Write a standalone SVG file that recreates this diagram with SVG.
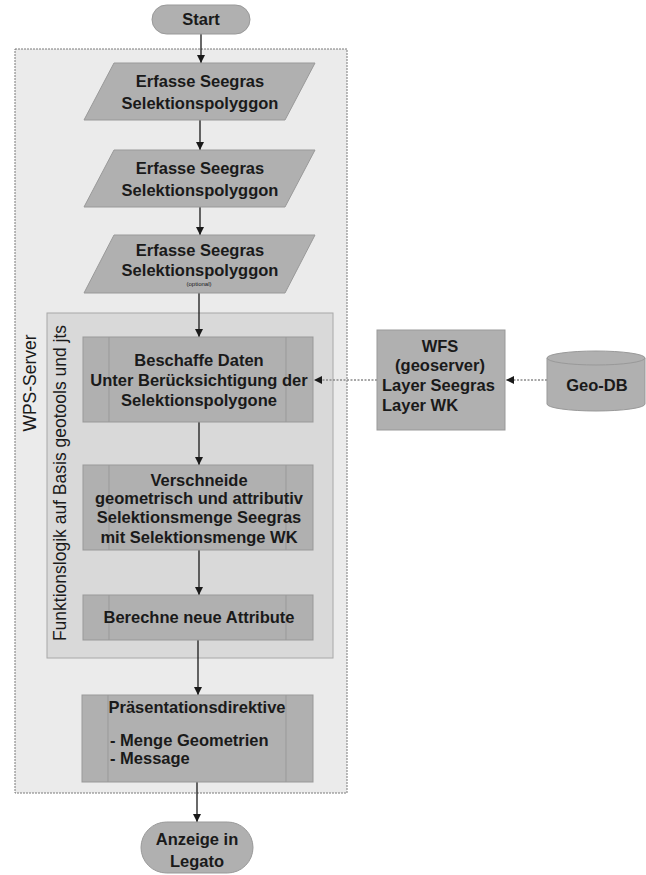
<svg xmlns="http://www.w3.org/2000/svg" width="646" height="875" viewBox="0 0 646 875">
  <style>
    .lane { fill: #ebebeb; stroke: #7a7a7a; stroke-width: 1; stroke-dasharray: 2 1; }
    .sublane { fill: #d9d9d9; stroke: #a8a8a8; stroke-width: 1; }
    .node { fill: #b0b0b0; stroke: #999999; stroke-width: 1; }
    .bar { stroke: #999999; stroke-width: 1; fill: none; }
    .t { font-family: "Liberation Sans", Arial, sans-serif; font-size: 16.5px; font-weight: bold; fill: #1a1a1a; text-anchor: middle; }
    .tl { font-family: "Liberation Sans", Arial, sans-serif; font-size: 16.5px; font-weight: bold; fill: #1a1a1a; text-anchor: start; }
    .lab { font-family: "Liberation Sans", Arial, sans-serif; font-size: 17.5px; fill: #1a1a1a; text-anchor: middle; }
    .small { font-family: "Liberation Sans", Arial, sans-serif; font-size: 6px; fill: #1a1a1a; text-anchor: middle; }
    .flow { stroke: #1a1a1a; stroke-width: 1.3; fill: none; marker-end: url(#arrow); }
    .data { stroke: #8a8a8a; stroke-width: 1.3; stroke-dasharray: 2 1.5; fill: none; marker-end: url(#arrow); }
  </style>
  <defs>
    <marker id="arrow" viewBox="0 0 10 10" refX="10" refY="5" markerWidth="8" markerHeight="8" markerUnits="userSpaceOnUse" orient="auto">
      <path d="M0,0 L10,5 L0,10 z" fill="#1a1a1a"/>
    </marker>
  </defs>

  <!-- swimlanes -->
  <g id="lane-wps">
    <rect class="lane" x="15" y="49" width="332" height="744"/>
    <text class="lab" transform="translate(36,383) rotate(-90)">WPS-Server</text>
  </g>
  <g id="lane-logic">
    <rect class="sublane" x="47" y="313" width="286" height="345"/>
    <text class="lab" transform="translate(66,483) rotate(-90)">Funktionslogik auf Basis geotools und jts</text>
  </g>

  <!-- connectors -->
  <g id="connectors">
    <line class="flow" x1="201" y1="34" x2="201" y2="63"/>
    <line class="flow" x1="200" y1="120" x2="200" y2="150"/>
    <line class="flow" x1="200" y1="207" x2="200" y2="235"/>
    <line class="flow" x1="199" y1="293" x2="199" y2="337"/>
    <line class="flow" x1="199" y1="422" x2="199" y2="465"/>
    <line class="flow" x1="199" y1="550" x2="199" y2="595"/>
    <line class="flow" x1="198" y1="640" x2="198" y2="695"/>
    <line class="flow" x1="197" y1="782" x2="197" y2="822"/>
    <line class="data" x1="547" y1="380" x2="506" y2="380"/>
    <line class="data" x1="377" y1="380" x2="314" y2="380"/>
  </g>

  <!-- nodes -->
  <g id="start">
    <rect class="node" x="152" y="5" width="98" height="29" rx="14.5"/>
    <text class="t" x="201" y="25">Start</text>
  </g>

  <g id="input-1">
    <polygon class="node" points="114,63 315,63 285,120 84,120"/>
    <text class="t" x="200" y="87">Erfasse Seegras</text>
    <text class="t" x="200" y="109">Selektionspolyggon</text>
  </g>

  <g id="input-2">
    <polygon class="node" points="114,150 315,150 285,207 84,207"/>
    <text class="t" x="200" y="174">Erfasse Seegras</text>
    <text class="t" x="200" y="196">Selektionspolyggon</text>
  </g>

  <g id="input-3">
    <polygon class="node" points="114,235 315,235 285,293 84,293"/>
    <text class="t" x="200" y="256">Erfasse Seegras</text>
    <text class="t" x="200" y="276">Selektionspolyggon</text>
    <text class="small" x="199" y="286">(optional)</text>
  </g>

  <g id="fetch-data">
    <rect class="node" x="83" y="337" width="230" height="85"/>
    <line class="bar" x1="109" y1="337" x2="109" y2="422"/>
    <line class="bar" x1="286" y1="337" x2="286" y2="422"/>
    <text class="t" x="199" y="366">Beschaffe Daten</text>
    <text class="t" x="199" y="386">Unter Berücksichtigung der</text>
    <text class="t" x="199" y="406">Selektionspolygone</text>
  </g>

  <g id="intersect">
    <rect class="node" x="83" y="465" width="230" height="85"/>
    <line class="bar" x1="109" y1="465" x2="109" y2="550"/>
    <line class="bar" x1="286" y1="465" x2="286" y2="550"/>
    <text class="t" x="199" y="486">Verschneide</text>
    <text class="t" x="199" y="504">geometrisch und attributiv</text>
    <text class="t" x="199" y="523">Selektionsmenge Seegras</text>
    <text class="t" x="199" y="543">mit Selektionsmenge WK</text>
  </g>

  <g id="compute">
    <rect class="node" x="83" y="595" width="230" height="45"/>
    <line class="bar" x1="109" y1="595" x2="109" y2="640"/>
    <line class="bar" x1="286" y1="595" x2="286" y2="640"/>
    <text class="t" x="199" y="623">Berechne neue Attribute</text>
  </g>

  <g id="presentation">
    <rect class="node" x="82" y="695" width="231" height="87"/>
    <line class="bar" x1="108" y1="695" x2="108" y2="782"/>
    <line class="bar" x1="286" y1="695" x2="286" y2="782"/>
    <text class="t" x="197" y="713">Präsentationsdirektive</text>
    <text class="tl" x="110" y="746">- Menge Geometrien</text>
    <text class="tl" x="110" y="764">- Message</text>
  </g>

  <g id="end">
    <rect class="node" x="141" y="822" width="112" height="51" rx="25.5"/>
    <text class="t" x="197" y="845">Anzeige in</text>
    <text class="t" x="197" y="867">Legato</text>
  </g>

  <g id="wfs">
    <rect class="node" x="377" y="330" width="128" height="100"/>
    <text class="t" x="440" y="352">WFS</text>
    <text class="t" x="440" y="371">(geoserver)</text>
    <text class="tl" x="382" y="391">Layer Seegras</text>
    <text class="tl" x="382" y="411">Layer WK</text>
  </g>

  <g id="geo-db">
    <path class="node" d="M547,358 L547,404 A49,7 0 0 0 645,404 L645,358"/>
    <ellipse class="node" cx="596" cy="358" rx="49" ry="7"/>
    <text class="t" x="597" y="391">Geo-DB</text>
  </g>
</svg>
